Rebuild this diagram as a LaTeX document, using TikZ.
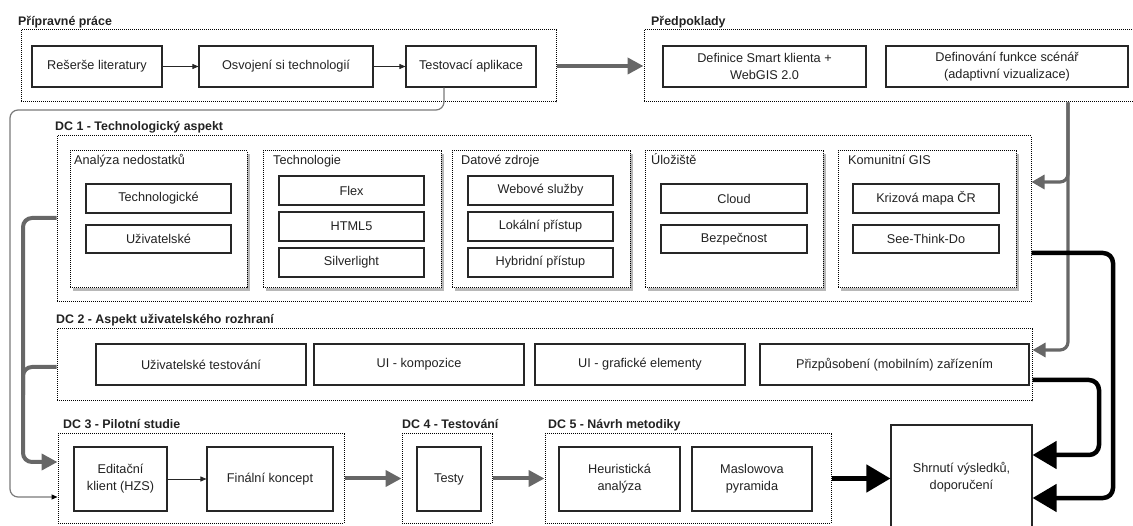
\documentclass[tikz,border=0pt]{standalone}
\usepackage{fontspec}
\setmainfont{Liberation Sans}
\usetikzlibrary{arrows.meta,fit,calc}

\definecolor{txt}{HTML}{222222}
\definecolor{boxc}{HTML}{262626}
\definecolor{flowgray}{HTML}{676767}
\definecolor{linkgray}{HTML}{7A7A7A}
\definecolor{shadowc}{HTML}{B8B8B8}

% dotted sub-group with a soft drop shadow
\newcommand\shadowgroup[5]{%
  \fill[shadowc] (#2+3,#3+3) rectangle (#4+3,#5+3);
  \node[grp, fill=white, fit={(#2,#3) (#4,#5)}] (#1) {};
}
% solid box given by its corners: name, x1, y1, x2, y2, text
\newcommand\bx[6]{%
  \node[box, minimum width={#4-#2}, minimum height={#5-#3}]
    (#1) at ({(#2+#4)/2},{(#3+#5)/2}) {#6};
}

\begin{document}
\begin{tikzpicture}[x=1pt,y=-1pt,
  every node/.style={text=txt},
  box/.style={draw=boxc, line width=1.1pt, fill=white, inner sep=0pt, align=center,
              font=\fontsize{12.7}{17}\selectfont},
  grp/.style={draw=black, line width=1pt, dash pattern=on 1pt off 1pt, inner sep=0pt},
  ttl/.style={anchor=base west, inner sep=0pt, font=\bfseries\fontsize{12.4}{15}\selectfont},
  subttl/.style={anchor=base west, inner sep=0pt, font=\fontsize{12.7}{15}\selectfont},
  thinarr/.style={draw=boxc, line width=0.8pt, -{Triangle[length=6pt,width=5pt]}},
  linkarr/.style={draw=linkgray, line width=1.2pt, -{Triangle[length=6pt,width=5pt,color=black]}},
  flowline/.style={draw=flowgray, line width=4pt},
  flowarr/.style={flowline, -{Triangle[length=16pt,width=16pt]}},
  sidearr/.style={flowline, line width=3.2pt, -{Triangle[length=13pt,width=14pt]}},
  bigarr/.style={draw=black, line width=4.5pt, -{Triangle[length=24pt,width=27pt]}},
]
\useasboundingbox (0,0) rectangle (1133,526);

% ---------- preparation ----------
\node[grp, fit={(21,30) (556,102)}] (prep) {};
\node[ttl] at (18,26) {Přípravné práce};
\bx{res}{32}{46}{162}{87}{Rešerše literatury}
\bx{osv}{199}{46}{373}{87}{Osvojení si technologií}
\bx{tes}{406}{46}{536}{87}{Testovací aplikace}

% ---------- assumptions ----------
\node[grp, fit={(644,30) (1136,102)}] (pred) {};
\node[ttl] at (651,26) {Předpoklady};
\bx{smart}{663}{46}{866}{87}{Definice Smart klienta +\\WebGIS 2.0}
\bx{scen}{886}{46}{1128}{87}{Definování funkce scénář\\(adaptivní vizualizace)}

% ---------- DC 1 ----------
\node[grp, fit={(57,136) (1031,302)}] (dc1) {};
\node[ttl] at (55,131) {DC 1 - Technologický aspekt};

\shadowgroup{gana}{70}{151}{247}{288}
\node[subttl] at (74,165) {Analýza nedostatků};
\bx{tech}{86}{184}{231}{213}{Technologické}
\bx{uziv}{86}{225}{231}{253}{Uživatelské}

\shadowgroup{gtech}{263}{151}{441}{288}
\node[subttl] at (273,165) {Technologie};
\bx{flex}{279}{176}{424}{205}{Flex}
\bx{html}{279}{212}{424}{241}{HTML5}
\bx{silv}{279}{248}{424}{277}{Silverlight}

\shadowgroup{gdata}{452}{151}{630}{288}
\node[subttl] at (461,165) {Datové zdroje};
\bx{web}{468}{176}{613}{205}{Webové služby}
\bx{lok}{468}{212}{613}{241}{Lokální přístup}
\bx{hyb}{468}{248}{613}{277}{Hybridní přístup}

\shadowgroup{gulo}{645}{151}{823}{288}
\node[subttl] at (651,165) {Úložiště};
\bx{cloud}{661}{184}{807}{213}{Cloud}
\bx{bezp}{661}{225}{807}{253}{Bezpečnost}

\shadowgroup{gkom}{838}{151}{1016}{288}
\node[subttl] at (848,165) {Komunitní GIS};
\bx{kriz}{853}{184}{999}{213}{Krizová mapa ČR}
\bx{std}{853}{225}{999}{253}{See-Think-Do}

% ---------- DC 2 ----------
\node[grp, fit={(57,329) (1032,401)}] (dc2) {};
\node[ttl] at (56,324) {DC 2 - Aspekt uživatelského rozhraní};
\bx{utest}{96}{344}{306}{385}{Uživatelské testování}
\bx{ukomp}{314}{344}{524}{385}{UI - kompozice}
\bx{ugraf}{535}{344}{745}{385}{UI - grafické elementy}
\bx{umob}{760}{344}{1029}{385}{Přizpůsobení (mobilním) zařízením}

% ---------- DC 3 / 4 / 5 ----------
\node[grp, fit={(58,434) (344,523)}] (dc3) {};
\node[ttl] at (63,429) {DC 3 - Pilotní studie};
\bx{edit}{74}{447}{167}{511}{Editační\\klient (HZS)}
\bx{fin}{207}{447}{333}{511}{Finální koncept}

\node[grp, fit={(402,434) (492,523)}] (dc4) {};
\node[ttl] at (402,429) {DC 4 - Testování};
\bx{testy}{417}{447}{481}{511}{Testy}

\node[grp, fit={(545,434) (831,523)}] (dc5) {};
\node[ttl] at (548,429) {DC 5 - Návrh metodiky};
\bx{heur}{559}{447}{680}{511}{Heuristická\\analýza}
\bx{masl}{692}{447}{812}{511}{Maslowova\\pyramida}

\bx{shr}{891}{425}{1032}{530}{Shrnutí výsledků,\\doporučení}

% ---------- connectors ----------
\draw[thinarr] (res.east) -- (osv.west);
\draw[thinarr] (osv.east) -- (tes.west);
\draw[flowarr] (prep.east) -- (pred.west);

\draw[linkarr, rounded corners=8pt]
  (tes.south -| 444,0) -- (444,110) -- (10,110) -- (10,497) -- (dc3.west |- 0,497);

\draw[flowarr, rounded corners=9pt]
  (dc1.west |- 0,218) -- (23,218) -- (23,462) -- (dc3.west |- 0,462);
\draw[flowline, rounded corners=9pt]
  (dc2.west |- 0,367) -- (23,367) -- (23,395);

\draw[sidearr, rounded corners=8pt]
  (pred.south -| 1068,0) -- (1068,182) -- (dc1.east |- 0,182);
\draw[sidearr, rounded corners=8pt]
  (pred.south -| 1068,0) -- (1068,350) -- (dc2.east |- 0,350);

\draw[thinarr] (edit.east) -- (fin.west);
\draw[flowarr] (dc3.east) -- (dc4.west);
\draw[flowarr] (dc4.east) -- (dc5.west);
\draw[bigarr] (dc5.east) -- (shr.west |- dc5.east);

\draw[bigarr, rounded corners=10pt]
  (dc1.east |- 0,253) -- (1113,253) -- (1113,498) -- (shr.east |- 0,498);
\draw[bigarr, rounded corners=10pt]
  (dc2.east |- 0,380) -- (1099,380) -- (1099,455) -- (shr.east |- 0,455);
\end{tikzpicture}
\end{document}
